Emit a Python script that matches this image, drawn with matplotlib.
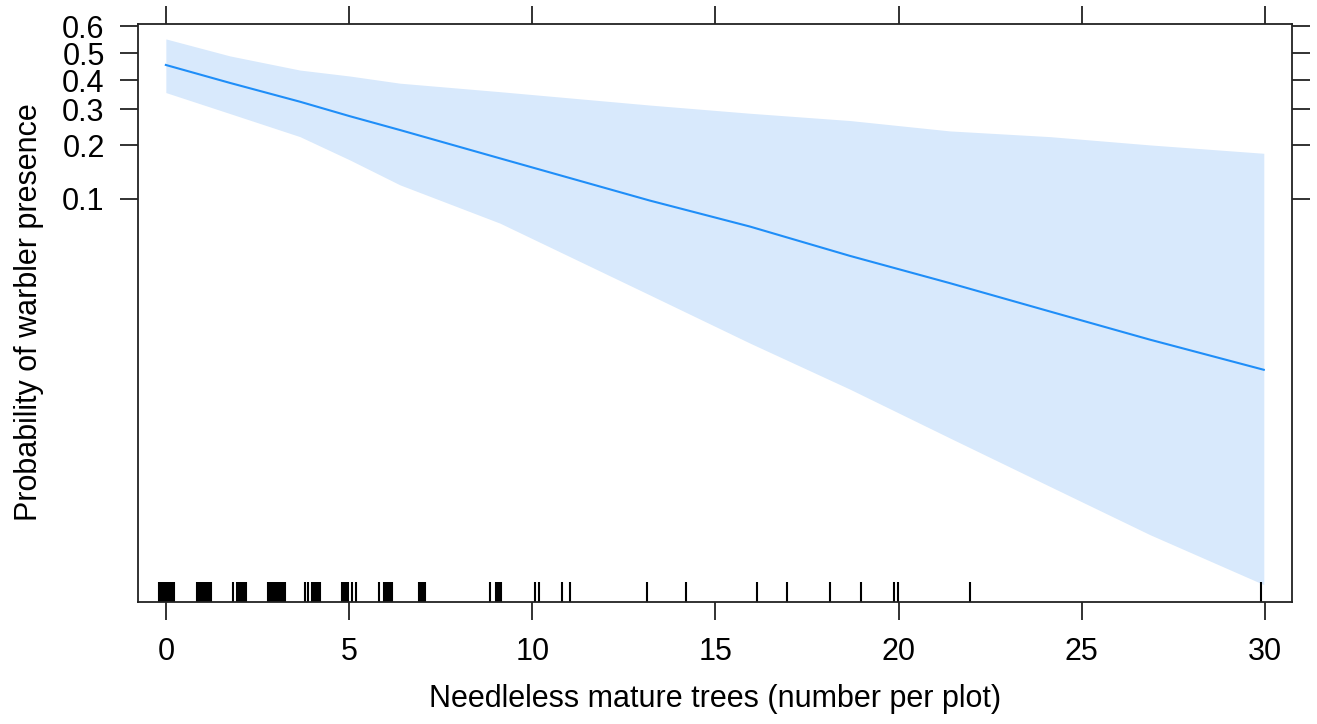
import numpy as np
import matplotlib
matplotlib.use('Agg')
from matplotlib import pyplot as plt

plt.rcParams['font.family'] = ['Liberation Sans', 'DejaVu Sans']

# fitted effect (probability scale)
x_pts = [0.0, 1.75, 3.66, 5.02, 6.39, 9.12, 13.21, 15.94, 18.67, 21.40, 24.13, 26.86, 29.97]
fit = [0.456, 0.390, 0.325, 0.279, 0.239, 0.170, 0.0977, 0.0682, 0.0449, 0.0302, 0.0199, 0.0131, 0.00835]
upper = [0.554, 0.490, 0.437, 0.415, 0.389, 0.359, 0.314, 0.288, 0.266, 0.2365, 0.2213, 0.2005, 0.181]
lower = [0.356, 0.287, 0.2213, 0.1667, 0.1207, 0.0715, 0.0254, 0.01245, 0.00625, 0.00300,
         0.001447, 0.000699, 0.000329]

# jittered rug of observed values
rug = [-0.19, -0.15, -0.12, -0.08, -0.05, -0.02, 0.02, 0.05, 0.09, 0.12, 0.16, 0.20, 0.23,
       0.84, 0.88, 0.92, 0.96, 1.00, 1.04, 1.08, 1.12, 1.16, 1.20, 1.24,
       1.84, 1.93, 1.97, 2.01, 2.05, 2.10, 2.14, 2.19,
       2.78, 2.84, 2.90, 2.96, 3.00, 3.06, 3.11, 3.16, 3.21, 3.25,
       3.79, 3.88, 3.98, 4.03, 4.08, 4.13, 4.18, 4.22,
       4.82, 4.87, 4.92, 4.98, 5.07, 5.19,
       5.82, 5.95, 6.00, 6.06, 6.12, 6.18,
       6.92, 6.97, 7.02, 7.07,
       8.85, 9.01, 9.05, 9.10, 9.14,
       10.07, 10.19, 10.82, 11.03, 13.14, 14.20, 16.13, 16.96,
       18.13, 18.97, 19.88, 19.99, 21.95, 29.89]

x_ticks = [0, 5, 10, 15, 20, 25, 30]
y_ticks = [0.1, 0.2, 0.3, 0.4, 0.5, 0.6]
y_labels = ['0.1', '0.2', '0.3', '0.4', '0.5', '0.6']

fig = plt.figure(figsize=(13.17, 7.24), dpi=100)
W, H = 1317, 724
ax = fig.add_axes([138 / W, 1 - 602 / H, (1292 - 138) / W, (602 - 24) / H])

ax.set_yscale('logit')
ax.fill_between(x_pts, lower, upper, color='#d8e9fc', lw=0)
ax.plot(x_pts, fit, color='#1f8ef8', lw=1.5)
ax.vlines(rug, 0, 0.034, transform=ax.get_xaxis_transform(), color='black', lw=1.5)

ax.set_xlim(-0.76, 30.74)
ax.set_ylim(0.000253, 0.6087)
ax.set_xticks(x_ticks)
ax.set_xticklabels([str(t) for t in x_ticks])
ax.set_yticks(y_ticks)
ax.set_yticklabels(y_labels)
ax.yaxis.set_minor_locator(matplotlib.ticker.NullLocator())
ax.xaxis.set_minor_locator(matplotlib.ticker.NullLocator())

ax.tick_params(direction='out', length=13, width=1.3, labelsize=22, color='#222222',
               top=True, right=True, labeltop=False, labelright=False)
ax.tick_params(axis='x', pad=12)
ax.tick_params(axis='y', pad=11)
for s in ax.spines.values():
    s.set_linewidth(1.3)
    s.set_color('#222222')

fig.text(715 / W, 1 - 699 / H, 'Needleless mature trees (number per plot)',
         fontsize=22, ha='center', va='center')
fig.text(29 / W, 1 - 312 / H, 'Probability of warbler presence',
         fontsize=22, ha='center', va='center', rotation=90)

fig.savefig('out.png', dpi=100)
